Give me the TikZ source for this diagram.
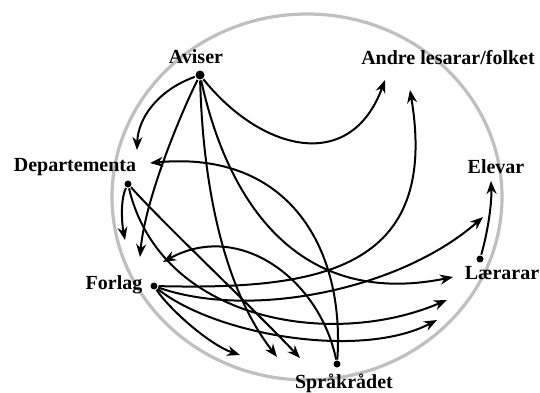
\documentclass[tikz,border=0pt]{standalone}
\usepackage{fontspec}
\setmainfont{Liberation Serif}
\usetikzlibrary{arrows.meta}

\begin{document}
\begin{tikzpicture}[x=0.5pt, y=-0.5pt, >={Stealth[length=6.5pt,width=5pt]}, line width=1pt,
    dot/.style={circle, fill, inner sep=0pt, minimum size=3.5pt},
    actor/.style={font=\bfseries\fontsize{10}{12}\selectfont, inner sep=0pt}]

    \useasboundingbox (0,0) rectangle (540,392);

    % ring round the actors
    \draw[gray!50, line width=1.6pt] (307,197) ellipse [x radius=195, y radius=183];

    % actors
    \node[actor] (avLab) at (196,57) {Aviser};
    \node[actor] (depLab) at (75,167) {Departementa};
    \node[actor] (andLab) at (448,58) {Andre lesarar/folket};
    \node[actor] (elvLab) at (496,167) {Elevar};
    \node[actor] (laerLab) at (502,273) {Lærarar};
    \node[actor] (forLab) at (114,285) {Forlag};
    \node[actor] (sprLab) at (344,383) {Språkrådet};

    \node[dot, minimum size=4.5pt] (av) at (200,75) {};
    \node[dot] (dep) at (128,184) {};
    \node[dot] (forl) at (154,286) {};
    \node[dot] (sprak) at (337,364) {};
    \node[dot] (laer) at (480,259) {};

    % where the arrows end
    \coordinate (depIn1) at (137,150);
    \coordinate (depIn2) at (150,163);
    \coordinate (forIn1) at (140,257);
    \coordinate (forIn2) at (125,240);
    \coordinate (forIn3) at (163,262);
    \coordinate (andIn1) at (385,80);
    \coordinate (andIn2) at (410,90);
    \coordinate (elvIn1) at (483,217);
    \coordinate (elvIn2) at (491,181);
    \coordinate (laerIn1) at (453,277);
    \coordinate (laerIn2) at (447,300);
    \coordinate (laerIn3) at (437,320);
    \coordinate (sprIn1) at (240,355);
    \coordinate (sprIn2) at (277,357);
    \coordinate (sprIn3) at (300,358);

    % from Aviser
    \draw[->] (av) .. controls (158,90) and (138,118) .. (depIn1);
    \draw[->] (av) .. controls (260,150) and (350,175) .. (andIn1);
    \draw[->] (av) .. controls (180,115) and (145,200) .. (forIn1);
    \draw[->] (av) .. controls (203,190) and (225,290) .. (sprIn2);
    \draw[->] (av) .. controls (225,190) and (290,310) .. (laerIn1);

    % from Departementa
    \draw[->] (dep) .. controls (120,200) and (122,225) .. (forIn2);
    \draw[->] (dep) .. controls (165,225) and (255,310) .. (sprIn3);
    \draw[->] (dep) .. controls (160,320) and (330,350) .. (laerIn2);

    % from Forlag
    \draw[->] (forl) .. controls (170,310) and (210,345) .. (sprIn1);
    \draw[->] (forl) .. controls (215,335) and (360,360) .. (laerIn3);
    \draw[->] (forl) .. controls (250,320) and (400,290) .. (elvIn1);
    \draw[->] (forl) .. controls (320,290) and (440,270) .. (andIn2);

    % from Spraakraadet
    \draw[->] (sprak) .. controls (345,250) and (290,150) .. (depIn2);
    \draw[->] (sprak) .. controls (320,280) and (240,220) .. (forIn3);

    % from Laerarar
    \draw[->] (laer) .. controls (487,235) and (492,205) .. (elvIn2);

\end{tikzpicture}
\end{document}
